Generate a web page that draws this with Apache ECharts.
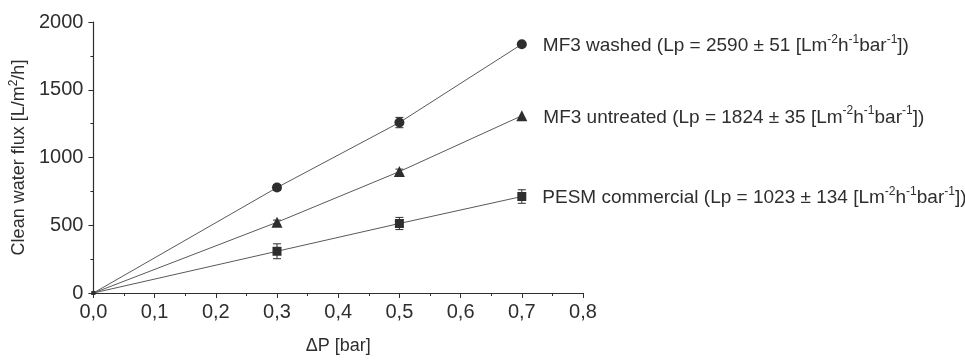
<!DOCTYPE html>
<html>
<head>
<meta charset="utf-8">
<script src="https://cdn.jsdelivr.net/npm/echarts@6/dist/echarts.min.js"></script>
<style>
  html, body { margin: 0; padding: 0; background: #fff; }
  #flux-chart { width: 965px; height: 360px; }
</style>
</head>
<body>
<div id="flux-chart"></div>
<script>
// measured points (pressure in bar, flux in L/m2/h)
var pressure = [0, 0.3, 0.5, 0.7];

var washedFlux = [0, 778, 1258, 1836];
var washedErr = [0, 22, 38, 0];

var untreatedFlux = [0, 522, 896, 1308];
var untreatedErr = [0, 16, 18, 0];

var pesmFlux = [0, 308, 513, 712];
var pesmErr = [0, 55, 45, 50];

var seriesNames = ['MF3 washed', 'MF3 untreated', 'PESM commercial'];
var permeance = ['2590 ± 51', '1824 ± 35', '1023 ± 134'];

var xTicks = ['0,0', '0,1', '0,2', '0,3', '0,4', '0,5', '0,6', '0,7', '0,8'];

var chartDom0 = document.getElementById('flux-chart');
var myChart0 = echarts.init(chartDom0);
var option0;

var ink = '#2e2e2e';
var font = 'Liberation Sans, Arial, sans-serif';

var richText = {
  t: { fontSize: 19, color: ink, fontFamily: font, verticalAlign: 'bottom', lineHeight: 22 },
  s: { fontSize: 12, color: ink, fontFamily: font, verticalAlign: 'top', lineHeight: 22 }
};

function labelText(i) {
  return '{t|' + seriesNames[i] + ' (Lp = ' + permeance[i] + ' [Lm}{s|-2}{t|h}{s|-1}{t|bar}{s|-1}{t|])}';
}

function pointsOf(flux, i) {
  return pressure.map(function (p, k) {
    var item = { value: [p, flux[k]] };
    if (k === 0) {
      item.symbolSize = 4;
    }
    if (k === pressure.length - 1) {
      item.label = {
        show: true,
        position: 'right',
        distance: 16,
        formatter: labelText(i),
        rich: richText
      };
    }
    return item;
  });
}

function errData(flux, err) {
  return pressure.map(function (p, k) {
    return [p, flux[k] - err[k], flux[k] + err[k]];
  }).filter(function (d, k) { return err[k] > 0; });
}

function errSeries(flux, err) {
  return {
    type: 'custom',
    data: errData(flux, err),
    z: 3,
    silent: true,
    renderItem: function (params, api) {
      var lo = api.coord([api.value(0), api.value(1)]);
      var hi = api.coord([api.value(0), api.value(2)]);
      var w = 4;
      var st = { stroke: ink, lineWidth: 1 };
      return {
        type: 'group',
        children: [
          { type: 'line', shape: { x1: lo[0], y1: lo[1], x2: hi[0], y2: hi[1] }, style: st },
          { type: 'line', shape: { x1: lo[0] - w, y1: lo[1], x2: lo[0] + w, y2: lo[1] }, style: st },
          { type: 'line', shape: { x1: hi[0] - w, y1: hi[1], x2: hi[0] + w, y2: hi[1] }, style: st }
        ]
      };
    }
  };
}

function pointSeries(flux, i, symbol, size) {
  return {
    name: seriesNames[i],
    type: 'line',
    symbol: symbol,
    symbolSize: size,
    showSymbol: true,
    z: 4,
    itemStyle: { color: ink },
    lineStyle: { color: '#5a5a5a', width: 1 },
    data: pointsOf(flux, i)
  };
}

option0 = {
  animation: false,
  backgroundColor: '#fff',
  grid: { left: 92, right: 382, top: 22, bottom: 66 },
  xAxis: {
    type: 'value',
    min: 0,
    max: 0.8,
    interval: 0.1,
    name: 'ΔP [bar]',
    nameLocation: 'middle',
    nameGap: 44,
    nameTextStyle: { color: ink, fontSize: 18, fontFamily: font },
    axisLine: { show: true, lineStyle: { color: ink, width: 1.2 } },
    axisTick: { show: true, length: 5, lineStyle: { color: ink } },
    minorTick: { show: true, splitNumber: 2, length: 3, lineStyle: { color: ink } },
    splitLine: { show: false },
    axisLabel: {
      color: ink,
      fontSize: 20,
      fontFamily: font,
      margin: 9,
      formatter: function (v) { return xTicks[Math.round(v * 10)]; }
    }
  },
  yAxis: {
    type: 'value',
    min: 0,
    max: 2000,
    interval: 500,
    name: '{t|Clean water flux [L/m}{s|2}{t|/h]}',
    nameLocation: 'middle',
    nameRotate: 90,
    nameGap: 60,
    nameTextStyle: {
      rich: {
        t: { fontSize: 18, color: ink, fontFamily: font, verticalAlign: 'bottom', lineHeight: 20 },
        s: { fontSize: 12, color: ink, fontFamily: font, verticalAlign: 'top', lineHeight: 20 }
      }
    },
    axisLine: { show: true, lineStyle: { color: ink, width: 1.2 } },
    axisTick: { show: true, length: 5, lineStyle: { color: ink } },
    minorTick: { show: true, splitNumber: 2, length: 3, lineStyle: { color: ink } },
    splitLine: { show: false },
    axisLabel: {
      color: ink,
      fontSize: 20,
      fontFamily: font,
      margin: 10,
      formatter: function (v) { return String(v); }
    }
  },
  series: [
    errSeries(washedFlux, washedErr),
    errSeries(untreatedFlux, untreatedErr),
    errSeries(pesmFlux, pesmErr),
    pointSeries(washedFlux, 0, 'circle', 10),
    pointSeries(untreatedFlux, 1, 'triangle', 11),
    pointSeries(pesmFlux, 2, 'rect', 9)
  ]
};

option0 && myChart0.setOption(option0);
</script>
</body>
</html>
